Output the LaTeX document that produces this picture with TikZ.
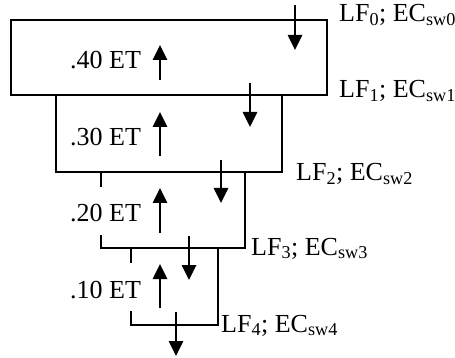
\documentclass[tikz,border=0pt]{standalone}
\usepackage{fontspec}
\setmainfont{Liberation Serif}
\usepackage{tikz}
\usetikzlibrary{arrows.meta,positioning}
\newcommand{\lfec}[1]{LF\textsubscript{#1}; EC\textsubscript{sw#1}}

\begin{document}
\begin{tikzpicture}[x=1pt,y=-1pt,
  lvl/.style={draw,line width=1.6pt,anchor=north west,inner sep=0pt,minimum width=#1},
  et/.style={fill=white,anchor=base west,inner xsep=2pt,inner ysep=13pt,text height=22pt,text depth=0pt},
  lf/.style={anchor=base west,inner sep=0pt},
  flow/.style={line width=2.6pt,-{Triangle[width=14pt,length=15pt]}},
  font=\fontsize{26pt}{31pt}\selectfont]
  \useasboundingbox (0,0) rectangle (455,358);
  % nested levels
  \node[lvl=316pt,minimum height=75pt] (B0) at (10,19) {};
  \node[lvl=226pt,minimum height=77pt] (B1) at (55,94) {};
  \node[lvl=144pt,minimum height=76pt] (B2) at (100,171) {};
  \node[lvl=87pt,minimum height=77pt] (B3) at (130,247) {};
  % shares
  \node[et] (E0) at (68,69) {.40 ET};
  \node[et] (E1) at (68,146) {.30 ET};
  \node[et] (E2) at (68,222) {.20 ET};
  \node[et] (E3) at (68,298) {.10 ET};
  % labels
  \node[lf] (L0) at (339,22) {\lfec{0}};
  \node[lf] (L1) at (339,98) {\lfec{1}};
  \node[lf] (L2) at (296,181) {\lfec{2}};
  \node[lf] (L3) at (251,255) {\lfec{3}};
  \node[lf] (L4) at (221,332) {\lfec{4}};
  % arrow ends
  \coordinate (u0a) at (160,80);  \coordinate (u0b) at (160,45);
  \coordinate (u1a) at (160,156); \coordinate (u1b) at (160,112);
  \coordinate (u2a) at (160,233); \coordinate (u2b) at (160,188);
  \coordinate (u3a) at (160,308); \coordinate (u3b) at (160,264);
  \coordinate (d0a) at (295,5);   \coordinate (d0b) at (295,50);
  \coordinate (d1a) at (250,83);  \coordinate (d1b) at (250,127);
  \coordinate (d2a) at (221,160); \coordinate (d2b) at (221,203);
  \coordinate (d3a) at (189,236); \coordinate (d3b) at (189,280);
  \coordinate (d4a) at (176,312); \coordinate (d4b) at (176,356);
  \draw[flow] (u0a) -- (u0b);
  \draw[flow] (u1a) -- (u1b);
  \draw[flow] (u2a) -- (u2b);
  \draw[flow] (u3a) -- (u3b);
  \draw[flow] (d0a) -- (d0b);
  \draw[flow] (d1a) -- (d1b);
  \draw[flow] (d2a) -- (d2b);
  \draw[flow] (d3a) -- (d3b);
  \draw[flow] (d4a) -- (d4b);
\end{tikzpicture}
\end{document}
